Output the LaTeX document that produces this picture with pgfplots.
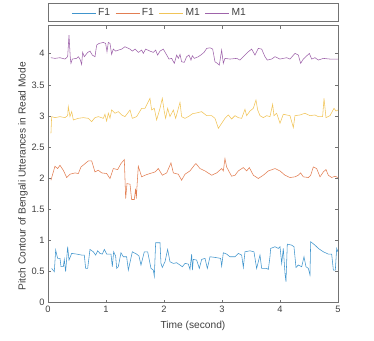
\documentclass[border=0pt]{standalone}
\usepackage{fontspec}
\setmainfont{Liberation Sans}
\usepackage{pgfplots}
\pgfplotsset{compat=1.18}
\definecolor{cF}{rgb}{0,0.447,0.741}
\definecolor{cFF}{rgb}{0.85,0.325,0.098}
\definecolor{cM}{rgb}{0.929,0.694,0.125}
\definecolor{cMM}{rgb}{0.494,0.184,0.556}
\colorlet{lineF}{cF!75}
\colorlet{lineFF}{cFF!75}
\colorlet{lineM}{cM!75}
\colorlet{lineMM}{cMM!75}
\definecolor{axgray}{gray}{0.45}
\definecolor{txtgray}{gray}{0.25}
\begin{document}
\begin{tikzpicture}
\begin{axis}[
    name=ax,
    scale only axis,
    width=290pt, height=277pt,
    xmin=0, xmax=5,
    ymin=0, ymax=4.45,
    xtick={0,1,2,3,4,5},
    ytick={0,0.5,1,1.5,2,2.5,3,3.5,4},
    tick align=inside,
    tick pos=both,
    major tick length=3pt,
    axis line style={axgray, line width=0.6pt},
    tick style={axgray, line width=0.5pt},
    ticklabel style={font=\fontsize{9.3}{11}\selectfont, text=txtgray},
    /pgf/number format/assume math mode=true,
    xlabel={Time (second)},
    ylabel={Pitch Contour of Bengali Utterances in Read Mode},
    label style={font=\fontsize{10.2}{12}\selectfont, text=txtgray},
    xlabel style={at={(axis description cs:0.5,0)}, anchor=center, yshift=-23pt},
    ylabel style={at={(axis description cs:0,0.5)}, anchor=center, yshift=25pt, xshift=-12pt},
    legend columns=4,
    legend style={draw=none, fill=none, at={(axis description cs:0.07,1)}, anchor=south west,
        yshift=4pt, font=\fontsize{10.3}{12}\selectfont,
        /tikz/every even column/.append style={column sep=3pt}},
    legend image code/.code={\draw[#1] (0pt,0pt) -- (24pt,0pt);},
    every axis plot/.append style={line width=0.55pt},
]
\addplot[color=lineF, forget plot] coordinates {
(0.063,0.551)(0.109,0.498)(0.132,0.845)(0.166,0.712)(0.207,0.712)(0.224,0.578)(0.264,0.578)(0.281,0.695)(0.304,0.498)(0.339,0.899)(0.362,0.685)(0.408,0.792)(0.494,0.781)(0.580,0.765)(0.626,0.765)(0.649,0.551)(0.684,0.551)(0.724,0.856)(0.781,0.818)(0.822,0.765)(0.856,0.834)(0.896,0.792)(0.937,0.781)(0.971,0.856)(1.011,0.781)(1.086,0.781)(1.109,0.578)(1.132,0.818)(1.166,0.749)(1.184,0.551)(1.212,0.578)(1.258,0.802)(1.299,0.738)(1.356,0.738)(1.385,0.524)(1.454,0.818)(1.528,0.781)(1.569,0.749)(1.603,0.605)(1.661,0.818)(1.718,0.818)(1.776,0.551)(1.816,0.524)(1.833,0.428)(1.856,0.963)(1.931,0.963)(1.948,0.631)(1.971,0.567)(2.017,0.658)(2.063,0.856)(2.103,0.658)(2.161,0.631)(2.218,0.642)(2.276,0.605)(2.316,0.578)(2.362,0.631)(2.419,0.621)(2.448,0.535)(2.477,0.781)(2.490,0.524)(2.505,0.695)(2.563,0.685)(2.609,0.551)(2.649,0.695)(2.707,0.712)(2.747,0.551)(2.793,0.738)(2.879,0.728)(2.977,0.712)(2.994,0.588)(3.023,0.802)(3.080,0.781)(3.138,0.738)(3.224,0.738)(3.281,0.792)(3.339,0.765)(3.368,0.567)(3.396,0.818)(3.483,0.834)(3.551,0.818)(3.597,0.551)(3.626,0.658)(3.655,0.765)(3.684,0.551)(3.770,0.551)(3.799,0.535)(3.827,0.738)(3.839,0.872)(3.914,0.899)(3.971,0.872)(4.0,0.899)(4.029,0.631)(4.057,0.872)(4.086,0.471)(4.103,0.338)(4.126,0.941)(4.201,0.925)(4.241,0.899)(4.276,0.567)(4.316,0.605)(4.374,0.578)(4.414,0.738)(4.448,0.578)(4.489,0.551)(4.517,0.444)(4.529,0.979)(4.603,0.925)(4.661,0.872)(4.747,0.818)(4.833,0.781)(4.891,0.781)(4.920,0.524)(4.954,0.524)(4.977,0.872)(5.0,0.818)
};
\addplot[color=lineFF, forget plot] coordinates {
(0.051,1.968)(0.12,2.192)(0.166,2.155)(0.207,2.208)(0.264,2.128)(0.322,2.011)(0.379,2.064)(0.465,2.085)(0.523,2.075)(0.569,2.181)(0.626,2.224)(0.695,2.278)(0.753,2.278)(0.810,2.101)(0.868,2.128)(0.925,2.085)(1.011,2.075)(1.069,1.995)(1.126,2.155)(1.201,2.139)(1.258,2.235)(1.316,2.299)(1.339,1.674)(1.362,1.914)(1.414,1.903)(1.442,1.658)(1.488,1.658)(1.511,1.834)(1.523,1.674)(1.534,1.861)(1.557,2.192)(1.615,2.022)(1.672,2.048)(1.758,2.075)(1.845,2.101)(1.902,2.155)(1.971,2.048)(2.046,2.085)(2.120,2.246)(2.161,2.085)(2.247,2.064)(2.304,1.968)(2.362,2.064)(2.448,2.117)(2.523,2.208)(2.551,2.235)(2.62,2.155)(2.707,2.117)(2.822,2.048)(2.908,2.085)(2.994,2.155)(3.023,2.117)(3.051,2.316)(3.080,2.181)(3.109,2.128)(3.166,2.032)(3.224,2.048)(3.281,2.117)(3.368,2.171)(3.425,2.117)(3.471,2.171)(3.540,2.048)(3.626,1.995)(3.712,2.048)(3.799,2.117)(3.914,2.155)(4.0,2.117)(4.086,2.048)(4.172,2.011)(4.258,2.022)(4.316,2.048)(4.356,2.085)(4.402,2.022)(4.489,2.011)(4.529,2.048)(4.575,2.181)(4.632,2.155)(4.69,2.022)(4.747,2.101)(4.793,2.139)(4.833,2.048)(4.891,2.011)(4.948,2.032)(5.0,2.011)
};
\addplot[color=lineM, forget plot] coordinates {
(0.051,2.722)(0.063,2.989)(0.12,2.973)(0.207,2.989)(0.293,2.973)(0.339,3.005)(0.350,3.150)(0.379,2.989)(0.408,3.069)(0.437,2.935)(0.523,2.962)(0.609,2.973)(0.695,2.962)(0.753,2.909)(0.810,2.973)(0.868,2.989)(0.954,2.962)(0.982,3.027)(1.011,2.919)(1.040,3.043)(1.069,2.962)(1.097,3.096)(1.155,3.043)(1.212,3.069)(1.270,3.016)(1.327,2.989)(1.414,3.096)(1.454,2.962)(1.528,2.989)(1.615,3.123)(1.672,3.123)(1.758,3.283)(1.787,3.096)(1.833,3.123)(1.873,2.935)(1.931,3.123)(1.971,3.283)(2.005,3.069)(2.028,2.962)(2.063,3.123)(2.103,2.989)(2.161,3.096)(2.201,2.962)(2.276,3.219)(2.304,2.989)(2.362,2.962)(2.419,2.989)(2.505,3.043)(2.534,3.043)(2.649,3.069)(2.735,3.005)(2.822,3.005)(2.879,2.962)(2.937,2.802)(2.994,2.882)(3.051,2.962)(3.109,3.016)(3.166,2.951)(3.224,3.005)(3.281,2.973)(3.339,2.962)(3.396,3.107)(3.425,3.005)(3.483,3.080)(3.540,3.123)(3.586,3.257)(3.615,3.096)(3.655,3.005)(3.712,2.973)(3.770,3.005)(3.827,2.989)(3.873,3.187)(3.896,3.005)(3.942,3.043)(4.0,2.882)(4.057,3.027)(4.172,3.005)(4.230,2.813)(4.258,3.005)(4.345,3.016)(4.431,3.043)(4.517,3.005)(4.603,3.016)(4.661,2.989)(4.735,2.989)(4.759,3.283)(4.793,2.973)(4.862,3.005)(4.931,3.123)(4.965,3.080)(5.0,3.096)
};
\addplot[color=lineMM, forget plot] coordinates {
(0.051,3.936)(0.12,3.925)(0.207,3.936)(0.293,3.914)(0.339,3.952)(0.362,4.299)(0.385,3.925)(0.396,3.845)(0.419,3.914)(0.494,3.925)(0.523,3.952)(0.551,3.914)(0.580,3.829)(0.597,4.021)(0.626,3.952)(0.684,4.021)(0.724,4.042)(0.764,3.978)(0.810,3.952)(0.839,4.138)(0.879,4.165)(0.954,4.181)(0.994,4.165)(1.017,4.032)(1.040,4.181)(1.069,4.165)(1.097,3.989)(1.126,4.074)(1.166,4.042)(1.212,4.058)(1.270,4.074)(1.327,4.112)(1.414,4.074)(1.454,4.042)(1.500,4.074)(1.557,4.021)(1.615,4.058)(1.643,4.005)(1.684,4.074)(1.758,4.042)(1.816,4.021)(1.856,4.058)(1.890,3.978)(1.931,4.042)(1.988,4.074)(2.063,3.952)(2.086,3.914)(2.132,3.925)(2.178,3.845)(2.218,3.978)(2.247,3.925)(2.276,3.989)(2.304,3.871)(2.350,3.861)(2.390,3.952)(2.431,3.978)(2.465,3.898)(2.488,3.968)(2.523,3.925)(2.592,3.952)(2.649,3.989)(2.69,4.021)(2.735,4.085)(2.793,4.095)(2.839,4.074)(2.879,3.871)(2.919,3.845)(2.954,3.818)(2.994,4.058)(3.023,3.845)(3.051,3.925)(3.138,3.914)(3.253,3.925)(3.310,3.898)(3.368,3.952)(3.454,4.032)(3.511,4.074)(3.569,3.978)(3.626,4.085)(3.684,4.074)(3.741,3.952)(3.781,3.898)(3.856,3.914)(3.914,3.952)(4.0,3.914)(4.115,3.936)(4.172,3.914)(4.258,4.005)(4.316,3.978)(4.356,3.845)(4.402,3.914)(4.506,4.005)(4.546,3.914)(4.603,3.936)(4.661,3.898)(4.747,3.925)(4.862,3.914)(5.0,3.914)
};
\addlegendimage{draw=lineF, line width=0.7pt}
\addlegendentry{\textcolor{txtgray}{F1}}
\addlegendimage{draw=lineFF, line width=0.7pt}
\addlegendentry{\textcolor{txtgray}{F1}}
\addlegendimage{draw=lineM, line width=0.7pt}
\addlegendentry{\textcolor{txtgray}{M1}}
\addlegendimage{draw=lineMM, line width=0.7pt}
\addlegendentry{\textcolor{txtgray}{M1}}
\end{axis}
% legend frame spanning the axis width
\draw[axgray, line width=0.6pt] ([yshift=4pt]ax.north west) rectangle ([yshift=22pt]ax.north east);
\pgfresetboundingbox
\path ([xshift=-48pt,yshift=-37.3pt]ax.south west) rectangle ([xshift=36pt,yshift=25.7pt]ax.north east);
\end{tikzpicture}
\end{document}
